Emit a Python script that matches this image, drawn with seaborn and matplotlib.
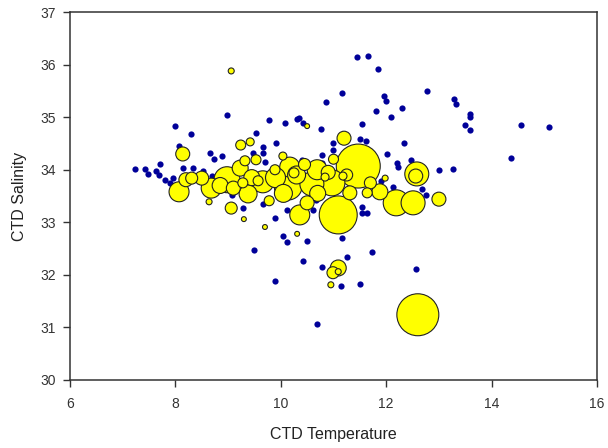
import pandas as pd
import matplotlib
matplotlib.use("Agg")
import matplotlib.pyplot as plt
import seaborn as sns

# --- small navy points: all CTD casts ---
all_temp = [7.23, 7.42, 7.48, 7.63, 7.71, 7.69, 7.80, 7.90, 7.95, 8.14, 8.33, 8.52, 8.69,
            8.98, 7.99, 8.30, 8.07, 8.66, 8.88, 9.53, 9.78, 9.66, 9.91, 9.47, 10.08, 10.35, 10.42, 10.76,
            11.45, 11.65, 11.84, 11.16, 10.86, 11.96, 12.00, 11.81, 12.30, 12.09, 11.54, 12.77,
            13.29, 13.33, 13.59, 13.59, 13.50, 13.59, 14.56, 15.09, 14.37,
            10.99, 11.50, 11.62, 12.34, 12.02, 12.20, 12.22, 12.47, 13.00, 13.27, 12.13, 12.68, 12.76, 11.90,
            11.54, 11.54, 11.64, 10.67, 10.12, 9.89, 9.66, 10.61, 11.16, 10.04, 10.12, 10.50, 9.49, 10.42,
            10.78, 11.26, 11.73, 9.89, 11.14, 11.50, 12.57, 10.69,
            9.70, 10.40, 10.78, 10.99, 10.78, 9.28, 8.73, 9.66, 9.07, 10.30]
all_sal = [34.02, 34.02, 33.92, 33.98, 34.11, 33.90, 33.81, 33.75, 33.84, 34.03, 34.03, 33.98, 33.88,
           35.04, 34.83, 34.68, 34.45, 34.32, 34.26, 34.70, 34.95, 34.43, 34.51, 34.32, 34.89, 34.98, 34.89, 34.78,
           36.14, 36.16, 35.92, 35.46, 35.29, 35.40, 35.31, 35.12, 35.17, 35.00, 34.87, 35.50,
           35.35, 35.25, 35.06, 35.00, 34.85, 34.76, 34.85, 34.81, 34.22,
           34.51, 34.59, 34.55, 34.51, 34.30, 34.13, 34.05, 34.19, 34.00, 34.02, 33.67, 33.63, 33.52, 33.78,
           33.29, 33.18, 33.18, 33.43, 33.24, 33.08, 33.35, 33.24, 32.70, 32.74, 32.63, 32.65, 32.48, 32.27,
           32.15, 32.34, 32.44, 31.89, 31.79, 31.83, 32.11, 31.07,
           34.15, 34.19, 34.28, 34.38, 34.13, 33.27, 34.21, 34.32, 33.52, 34.97]

# --- yellow bubbles: stations with catch, size = abundance ---
bub_temp = [8.14, 8.07, 8.20, 8.50, 8.31, 8.68, 8.64, 9.06, 8.98, 9.24, 9.42, 9.32, 9.38, 9.30, 9.70,
            9.78, 9.57, 9.28, 9.23, 9.66, 10.14, 10.59, 10.36, 10.04, 10.17, 10.69, 10.50, 10.50, 10.31,
            10.97, 11.09, 11.47, 11.20, 11.18, 11.31, 11.64, 11.88, 11.98, 12.58, 12.56, 12.19, 12.51,
            13.00, 11.09, 11.09, 10.99, 10.95, 12.60, 9.06, 10.84, 9.53, 9.89, 10.25,
            9.90, 10.30, 10.70, 10.90, 9.45, 8.85, 9.10, 10.05, 11.25, 10.45, 11.70, 11.00]
bub_sal = [34.30, 33.58, 33.81, 33.84, 33.84, 33.65, 33.39, 33.27, 33.81, 34.47, 34.53, 34.17, 33.54, 33.06, 32.91,
           33.41, 33.79, 33.75, 34.03, 33.77, 33.69, 33.73, 33.14, 34.26, 34.05, 34.00, 33.37, 34.83, 32.78,
           33.75, 33.14, 34.07, 34.60, 33.88, 33.56, 33.56, 33.58, 33.84, 33.92, 33.88, 33.37, 33.37,
           33.44, 32.13, 32.06, 32.04, 31.81, 31.24, 35.88, 33.86, 34.19, 34.00, 33.94,
           33.85, 33.90, 33.55, 33.95, 33.85, 33.70, 33.65, 33.55, 33.90, 34.10, 33.75, 34.20]
bub_abund = [49, 100, 49, 49, 36, 100, 9, 36, 169, 25, 16, 25, 81, 6, 6,
             25, 25, 25, 64, 121, 196, 144, 100, 16, 100, 100, 49, 6, 6,
             169, 361, 484, 49, 16, 49, 25, 64, 9, 144, 49, 169, 144,
             49, 64, 9, 36, 9, 441, 9, 16, 25, 25, 25,
             100, 81, 64, 49, 64, 64, 49, 81, 36, 36, 36, 25]

sns.set_theme(style="white")
plt.rcParams['font.family'] = ['Liberation Sans', 'DejaVu Sans']

fig = plt.figure(figsize=(6.08, 4.48), dpi=100)
ax = fig.add_axes([0.115, 0.152, 0.867, 0.821])

pts = pd.DataFrame({"temp": all_temp, "sal": all_sal})
sns.scatterplot(data=pts, x="temp", y="sal", color="#000099", s=20, linewidth=0,
                legend=False, ax=ax, zorder=2)

bub = pd.DataFrame({"temp": bub_temp, "sal": bub_sal, "abund": bub_abund})
bub = bub.sort_values("abund", ascending=False, kind="stable")
sns.scatterplot(data=bub, x="temp", y="sal", size="abund", sizes=(0, 2.07 * 500),
                size_norm=(0, 500), color="#ffff00", edgecolor="#222222", linewidth=0.8,
                legend=False, ax=ax, zorder=3)

ax.set_xlim(6, 16)
ax.set_ylim(30, 37)
ax.set_xticks([6, 8, 10, 12, 14, 16])
ax.set_yticks([30, 31, 32, 33, 34, 35, 36, 37])
ax.set_xlabel("CTD Temperature", fontsize=11.5, color="#222222", labelpad=12)
ax.set_ylabel("CTD Salinity", fontsize=11.5, color="#222222", labelpad=10)
for s in ax.spines.values():
    s.set_visible(True)
    s.set_color("#333333")
    s.set_linewidth(1.1)
ax.tick_params(axis="both", which="major", direction="out", length=5, width=1,
               color="#333333", labelsize=10, labelcolor="#333333",
               bottom=True, left=True, top=False, right=False)
ax.tick_params(axis="x", pad=7)
ax.tick_params(axis="y", pad=5)
ax.grid(False)

fig.savefig("out.png", dpi=100)
